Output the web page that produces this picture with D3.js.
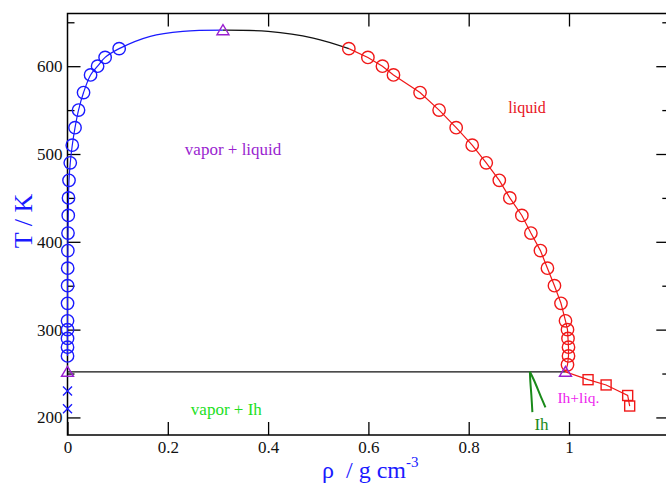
<!DOCTYPE html>
<html><head><meta charset="utf-8">
<script src="https://cdn.jsdelivr.net/npm/d3@7/dist/d3.min.js"></script>
<style>body{margin:0;background:#fff}svg{display:block}text{font-family:"Liberation Serif","DejaVu Serif",serif}</style>
</head><body><svg id="c" width="666" height="489"></svg>
<script>
// ---- data ----
const vaporT   = [270,280,290,300,310,330,350,370,390,410,430,450,470,490,510,530,550,570,590,600,610,620];
const vaporRho = [0.00001,0.00002,0.00003,0.00004,0.00006,0.0001,0.0002,0.0004,0.0007,0.001,0.0015,0.002,0.003,0.0055,0.0095,0.015,0.022,0.032,0.046,0.060,0.075,0.103];
const liquidT   = [620,610,600,590,570,550,530,510,490,470,450,430,410,390,370,350,330,310,300,290,280,270,260];
const liquidRho = [0.561,0.599,0.628,0.650,0.703,0.741,0.775,0.807,0.835,0.861,0.882,0.906,0.924,0.943,0.957,0.971,0.984,0.993,0.997,0.998,0.999,0.999,0.997];
const iceVaporT   = [230,210];
const iceVaporRho = [0.0,0.0];
const highRho = [1.038,1.074,1.117,1.121];
const highT   = [243,237,225,213];
const critRho = [0.31], critT = [641];
const tripleRho = [0.0,0.993], tripleT = [252,252];
const critUpperRho = [0.165,0.23,0.31];  // blue fit beyond the last vapor point
const critUpperT   = [634,639.6,641];
const blackRho = [0.31,0.4,0.49,0.561];
const blackT   = [641,639.6,632,620];
const ihLeftRho = [0.922,0.923,0.925,0.927];
const ihLeftT   = [252,240,225,206];
const ihRightRho = [0.922,0.930,0.944,0.953];
const ihRightT   = [252,242.6,223.5,211.4];
const xTicks = [0,0.2,0.4,0.6,0.8,1];
const xTopTicks = [0.2,0.4,0.6,0.8,1.0];
const yTicks = [200,300,400,500,600];
const yMinor = [250,350,450,550,650];
const labels = [
  {text:"vapor + liquid", rho:0.234, T:498.5, color:"#9a1fd0", size:17},
  {text:"liquid", rho:0.879, T:547, color:"#e8141c", size:16},
  {text:"vapor + Ih", rho:0.246, T:203, color:"#22e01e", size:17},
  {text:"Ih+liq.", rho:0.977, T:216, color:"#ee1fee", size:15.5},
  {text:"Ih", rho:0.931, T:185.5, color:"#1a8a1a", size:17}
];

// ---- chart ----
const svg = d3.select("#c");
const x = d3.scaleLinear().domain([0,1.2]).range([67.5,669.3]);
const y = d3.scaleLinear().domain([180,660]).range([435,13.5]);
const zip = (a,b)=>a.map((v,i)=>[v,b[i]]);
const line = d3.line().x(d=>x(d[0])).y(d=>y(d[1]));
const smooth = d3.line().x(d=>x(d[0])).y(d=>y(d[1])).curve(d3.curveCatmullRom);

const BLUE="#1a1aff", RED="#f01818", PURP="#9a1fd0", DG="#1a8a1a";

// axes
function styleAxis(g){g.select(".domain").remove();g.selectAll("line").attr("stroke","#000").attr("stroke-width",1.3);g.selectAll("text").attr("font-size",17).attr("fill","#111").attr("font-family","Liberation Serif");}
svg.append("g").attr("transform","translate(0,435)").call(d3.axisBottom(x).tickValues(xTicks).tickSize(-13).tickPadding(6).tickFormat(d3.format("~g"))).call(styleAxis);
svg.append("g").attr("transform","translate(0,13.5)").call(d3.axisTop(x).tickValues(xTopTicks).tickSize(-13).tickFormat("")).call(styleAxis);
svg.append("g").attr("transform","translate(67.5,0)").call(d3.axisLeft(y).tickValues(yTicks).tickSize(-13).tickPadding(5)).call(styleAxis);
svg.append("g").attr("transform","translate(67.5,0)").call(d3.axisLeft(y).tickValues(yMinor).tickSize(-7).tickFormat("")).call(styleAxis);
svg.append("g").attr("transform","translate(669.3,0)").call(d3.axisRight(y).tickValues(yTicks).tickSize(-13).tickFormat("")).call(styleAxis);
svg.append("g").attr("transform","translate(669.3,0)").call(d3.axisRight(y).tickValues(yMinor).tickSize(-7).tickFormat("")).call(styleAxis);
svg.append("rect").attr("x",x(0)).attr("y",y(660)).attr("width",x(1.2)-x(0)).attr("height",y(180)-y(660))
  .attr("fill","none").attr("stroke","#000").attr("stroke-width",1.5);

// lines
svg.append("path").attr("d",line(zip(tripleRho,tripleT))).attr("fill","none").attr("stroke","#111").attr("stroke-width",1.2);
const vap = zip(vaporRho,vaporT).concat(zip(critUpperRho,critUpperT));
svg.append("path").attr("d",smooth(vap)).attr("fill","none").attr("stroke",BLUE).attr("stroke-width",1.2);
svg.append("path").attr("d",smooth(zip(blackRho,blackT))).attr("fill","none").attr("stroke","#111").attr("stroke-width",1.2);
const liq = zip(liquidRho,liquidT).concat([[tripleRho[1],tripleT[1]]]).concat(zip(highRho,highT));
svg.append("path").attr("d",line(liq)).attr("fill","none").attr("stroke",RED).attr("stroke-width",1.2);
svg.append("path").attr("d",smooth(zip(ihLeftRho,ihLeftT))).attr("fill","none").attr("stroke",DG).attr("stroke-width",2);
svg.append("path").attr("d",smooth(zip(ihRightRho,ihRightT))).attr("fill","none").attr("stroke",DG).attr("stroke-width",2);

// markers
svg.append("g").selectAll("circle").data(zip(vaporRho,vaporT)).join("circle")
  .attr("cx",d=>x(d[0])).attr("cy",d=>y(d[1])).attr("r",6.2).attr("fill","none").attr("stroke",BLUE).attr("stroke-width",1.4);
svg.append("g").selectAll("circle").data(zip(liquidRho,liquidT)).join("circle")
  .attr("cx",d=>x(d[0])).attr("cy",d=>y(d[1])).attr("r",6.2).attr("fill","none").attr("stroke",RED).attr("stroke-width",1.4);
svg.append("g").selectAll("rect").data(zip(highRho,highT)).join("rect")
  .attr("x",d=>x(d[0])-5).attr("y",d=>y(d[1])-5).attr("width",10).attr("height",10).attr("fill","none").attr("stroke",RED).attr("stroke-width",1.4);
svg.append("g").selectAll("path").data(zip(iceVaporRho,iceVaporT)).join("path")
  .attr("d",d=>{const cx=x(d[0]),cy=y(d[1]),s=4.5;return `M${cx-s},${cy-s}L${cx+s},${cy+s}M${cx-s},${cy+s}L${cx+s},${cy-s}`;})
  .attr("stroke",BLUE).attr("stroke-width",1.4).attr("fill","none");
const tri = zip(critRho,critT).concat(zip(tripleRho,tripleT));
svg.append("g").selectAll("path").data(tri).join("path")
  .attr("d",d=>{const cx=x(d[0]),cy=y(d[1]);return `M${cx-6},${cy+4.5}L${cx+6},${cy+4.5}L${cx},${cy-5.5}Z`;})
  .attr("fill","none").attr("stroke",PURP).attr("stroke-width",1.4);

// annotations
svg.append("g").selectAll("text").data(labels).join("text")
  .attr("x",d=>x(d.rho)).attr("y",d=>y(d.T)).attr("fill",d=>d.color).attr("font-size",d=>d.size).text(d=>d.text);

// axis titles
const xt = svg.append("text").attr("x",322).attr("y",478).attr("fill","#1a1aff").attr("font-size",24).style("white-space","pre");
xt.append("tspan").text("ρ  / g cm");
xt.append("tspan").attr("dy",-11).attr("font-size",15).text("-3");
svg.append("text").attr("transform","translate(32,221) rotate(-90)").attr("text-anchor","middle")
  .attr("fill","#1a1aff").attr("font-size",26).text("T / K");
</script></body></html>
